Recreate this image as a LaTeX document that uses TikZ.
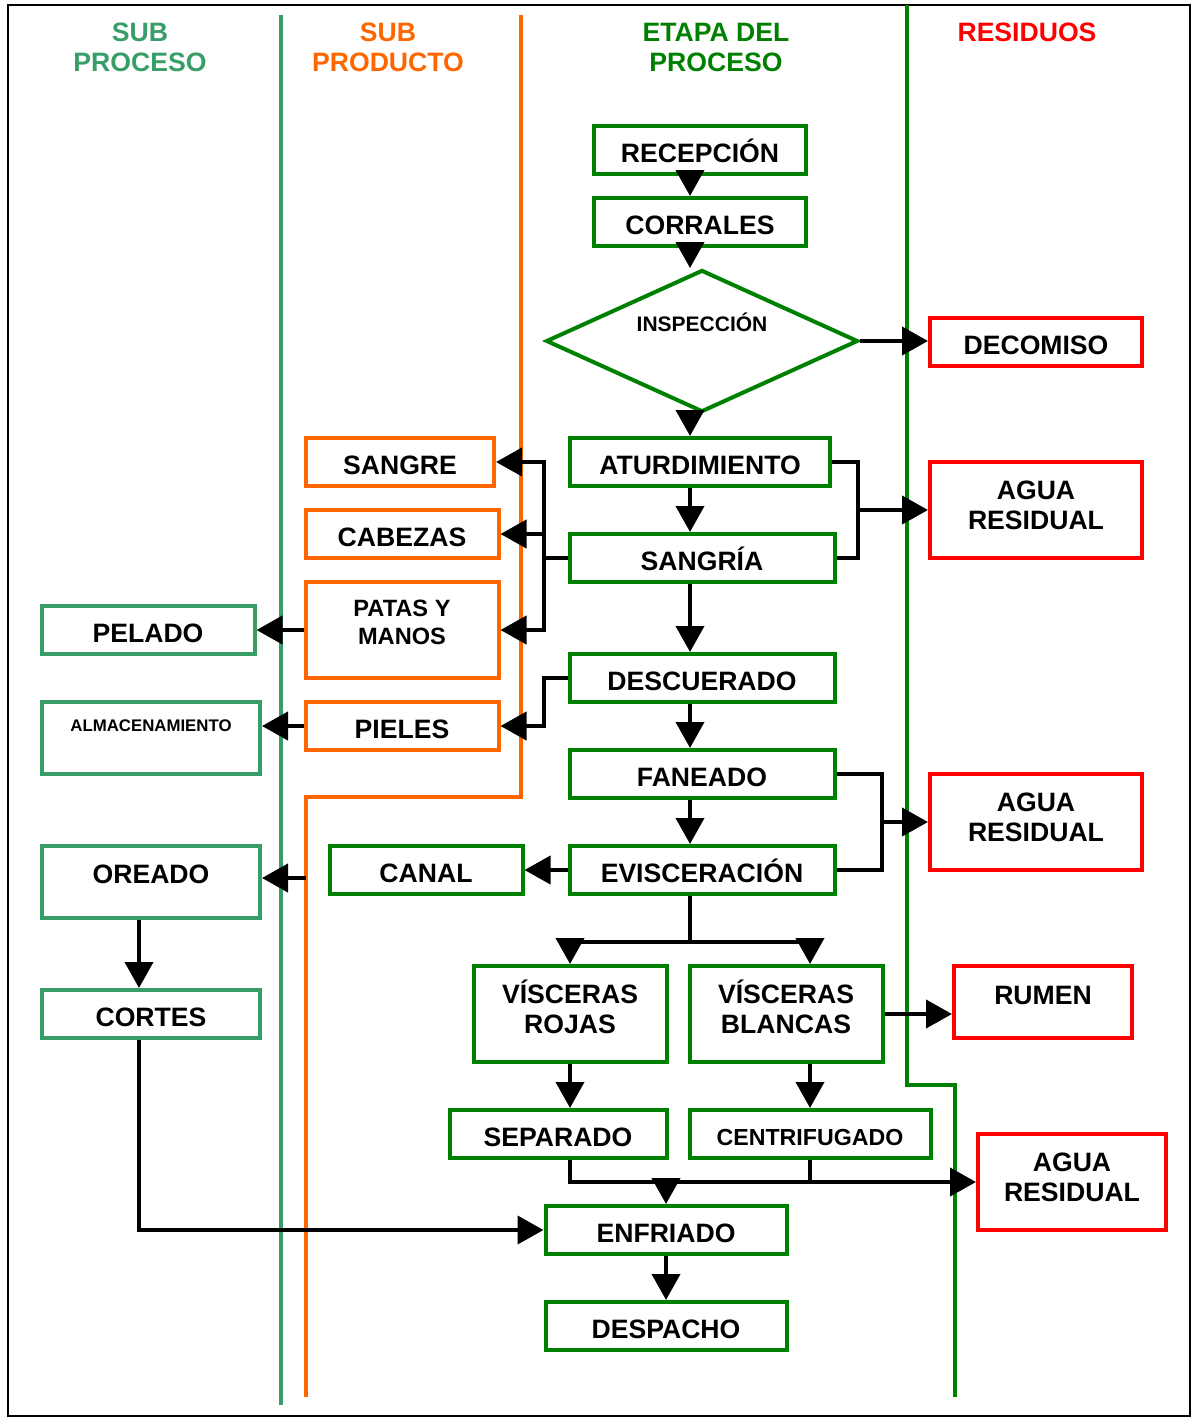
\documentclass[tikz,border=0pt]{standalone}
\usepackage{fontspec}
\setmainfont{Liberation Sans}
\usepackage{tikz}
\usetikzlibrary{arrows.meta,shapes.geometric}

\definecolor{verde}{RGB}{0,128,0}
\definecolor{verdesp}{RGB}{56,158,104}
\definecolor{naranja}{RGB}{255,102,0}
\definecolor{rojo}{RGB}{255,0,0}

\begin{document}
\begin{tikzpicture}[x=0.5pt, y=-0.5pt,
    caja/.style = {draw, line width=2pt, inner sep=0pt, minimum height=24pt, align=center,
                   font=\fontsize{13.3}{15}\selectfont\bfseries, text height=12.5pt, text depth=0pt},
    etapa/.style = {caja, draw=verde},
    subprod/.style = {caja, draw=naranja},
    subproc/.style = {caja, draw=verdesp},
    residuo/.style = {caja, draw=rojo},
    doble/.style = {minimum height=48pt, text height=19.5pt, text depth=0pt},
    titulo/.style = {align=center, font=\fontsize{13.3}{15}\selectfont\bfseries},
    flecha/.style = {line width=2pt, -{Triangle[length=13pt,width=14pt]}},
    linea/.style = {line width=2pt}]
    \useasboundingbox (0,0) rectangle (1194,1418);
    \draw[line width=0.8pt] (8,5) rectangle (1190,1416);
    \draw[verdesp, line width=1.7pt] (281,15) -- (281,1405);
    \draw[naranja, line width=1.7pt] (521,15) -- (521,797) -- (306,797) -- (306,1397);
    \draw[verde, line width=1.7pt] (907,5) -- (907,1085) -- (955,1085) -- (955,1397);

    \node[titulo, text=verdesp] (t1) at (140,47) {SUB\\PROCESO};
    \node[titulo, text=naranja] (t2) at (388,47) {SUB\\PRODUCTO};
    \node[titulo, text=verde] (t3) at (716,47) {ETAPA DEL\\PROCESO};
    \node[titulo, text=rojo] (t4) at (1027,32) {RESIDUOS};

    \node[etapa, minimum width=106pt] (1) at (700,150) {RECEPCIÓN};
    \node[etapa, minimum width=106pt] (2) at (700,222) {CORRALES};
    \node[diamond, draw=verde, line width=2pt, minimum width=156pt, minimum height=71pt, inner sep=0pt,
          shape aspect=2.2, font=\fontsize{10.5}{12}\selectfont\bfseries, text height=10pt, text depth=19.5pt] (3) at (702,341) {INSPECCIÓN};
    \node[etapa, minimum width=130pt] (4) at (700,462) {ATURDIMIENTO};
    \node[etapa, minimum width=132.5pt] (5) at (702,558) {SANGRÍA};
    \node[etapa, minimum width=132.5pt] (6) at (702,678) {DESCUERADO};
    \node[etapa, minimum width=132.5pt] (7) at (702,774) {FANEADO};
    \node[etapa, minimum width=132.5pt] (8) at (702,870) {EVISCERACIÓN};
    \node[etapa, doble, minimum width=96.5pt] (9) at (570,1014) {VÍSCERAS\\ROJAS};
    \node[etapa, doble, minimum width=96.5pt] (10) at (786,1014) {VÍSCERAS\\BLANCAS};
    \node[etapa, minimum width=108.5pt] (11) at (558,1134) {SEPARADO};
    \node[etapa, minimum width=120.5pt, font=\fontsize{11.6}{14}\selectfont\bfseries, text height=11pt] (12) at (810,1134) {CENTRIFUGADO};
    \node[etapa, minimum width=120.5pt] (13) at (666,1230) {ENFRIADO};
    \node[etapa, minimum width=120.5pt] (14) at (666,1326) {DESPACHO};

    \node[residuo, minimum width=106pt] (15) at (1036,342) {DECOMISO};
    \node[residuo, doble, minimum width=106pt] (16) at (1036,510) {AGUA\\RESIDUAL};
    \node[residuo, doble, minimum width=106pt] (17) at (1036,822) {AGUA\\RESIDUAL};
    \node[residuo, minimum width=89pt, minimum height=36pt, text depth=10pt] (18) at (1043,1002) {RUMEN};
    \node[residuo, doble, minimum width=94pt] (19) at (1072,1182) {AGUA\\RESIDUAL};

    \node[subprod, minimum width=94pt] (20) at (400,462) {SANGRE};
    \node[subprod, minimum width=96.5pt] (21) at (402,534) {CABEZAS};
    \node[subprod, minimum width=96.5pt, minimum height=48pt, font=\fontsize{11.8}{14}\selectfont\bfseries,
          text height=14.5pt, text depth=0pt] (22) at (402,630) {PATAS Y\\MANOS};
    \node[subprod, minimum width=96.5pt] (23) at (402,726) {PIELES};
    \node[etapa, minimum width=96.5pt] (24) at (426,870) {CANAL};

    \node[subproc, minimum width=106.5pt] (25) at (148,630) {PELADO};
    \node[subproc, minimum width=109pt, minimum height=36pt, font=\fontsize{8.4}{10}\selectfont\bfseries,
          text height=8pt, text depth=15pt] (26) at (151,738) {ALMACENAMIENTO};
    \node[subproc, minimum width=109pt, minimum height=36pt, text depth=11pt] (27) at (151,882) {OREADO};
    \node[subproc, minimum width=109pt] (28) at (151,1014) {CORTES};

    \coordinate (eje) at (690,0);
    \coordinate (j1) at (858,510);
    \coordinate (j2) at (882,822);
    \coordinate (j3) at (690,942);
    \coordinate (j4) at (810,1182);
    \coordinate (c1) at (306,878);

    \draw[flecha] (1.south -| eje) -- (2.north -| eje);
    \draw[flecha] (2.south -| eje) -- (3.north -| eje);
    \draw[flecha] (3.south -| eje) -- (4.north -| eje);
    \draw[flecha] (3.east) -- (3.east -| 15.west);
    \draw[flecha] (4.south -| eje) -- (5.north -| eje);
    \draw[linea] (4.east) -- (4.east -| j1) -- (5.east -| j1) -- (5.east);
    \draw[flecha] (j1) -- (16.west);
    \draw[flecha] (5.west) -- ++(-24,0) |- (20.east);
    \draw[flecha] (5.west) -- ++(-24,0) |- (21.east);
    \draw[flecha] (5.west) -- ++(-24,0) |- (22.east);
    \draw[flecha] (5.south -| eje) -- (6.north -| eje);
    \draw[flecha] (6.west) -- ++(-24,0) |- (23.east);
    \draw[flecha] (6.south -| eje) -- (7.north -| eje);
    \draw[flecha] (7.south -| eje) -- (8.north -| eje);
    \draw[linea] (7.east) -- (7.east -| j2) -- (8.east -| j2) -- (8.east);
    \draw[flecha] (j2) -- (17.west);
    \draw[flecha] (8) -- (24);
    \draw[flecha] (c1) -- (c1 -| 27.east);
    \draw[flecha] (22) -- (25);
    \draw[flecha] (23.west) -- (23.west -| 26.east);
    \draw[flecha] ([xshift=-6pt]27.south) -- ([xshift=-6pt]28.north);
    \draw[flecha] ([xshift=-6pt]28.south) |- (13.west);
    \draw[linea] (8.south -| eje) -- (j3);
    \draw[flecha] (j3) -| (9.north);
    \draw[flecha] (j3) -| ([xshift=12pt]10.north);
    \draw[flecha] (9.south) -- (9.south |- 11.north);
    \draw[flecha] ([xshift=12pt]10.south) -- (12.north);
    \draw[flecha] (10.east) -- (10.east -| 18.west);
    \draw[linea] (9.south |- 11.south) |- (j4);
    \draw[linea] (12.south) -- (j4);
    \draw[flecha] (j4) -- (19.west);
    \draw[flecha] (13.north |- j4) -- (13.north);
    \draw[flecha] (13) -- (14);
\end{tikzpicture}
\end{document}
